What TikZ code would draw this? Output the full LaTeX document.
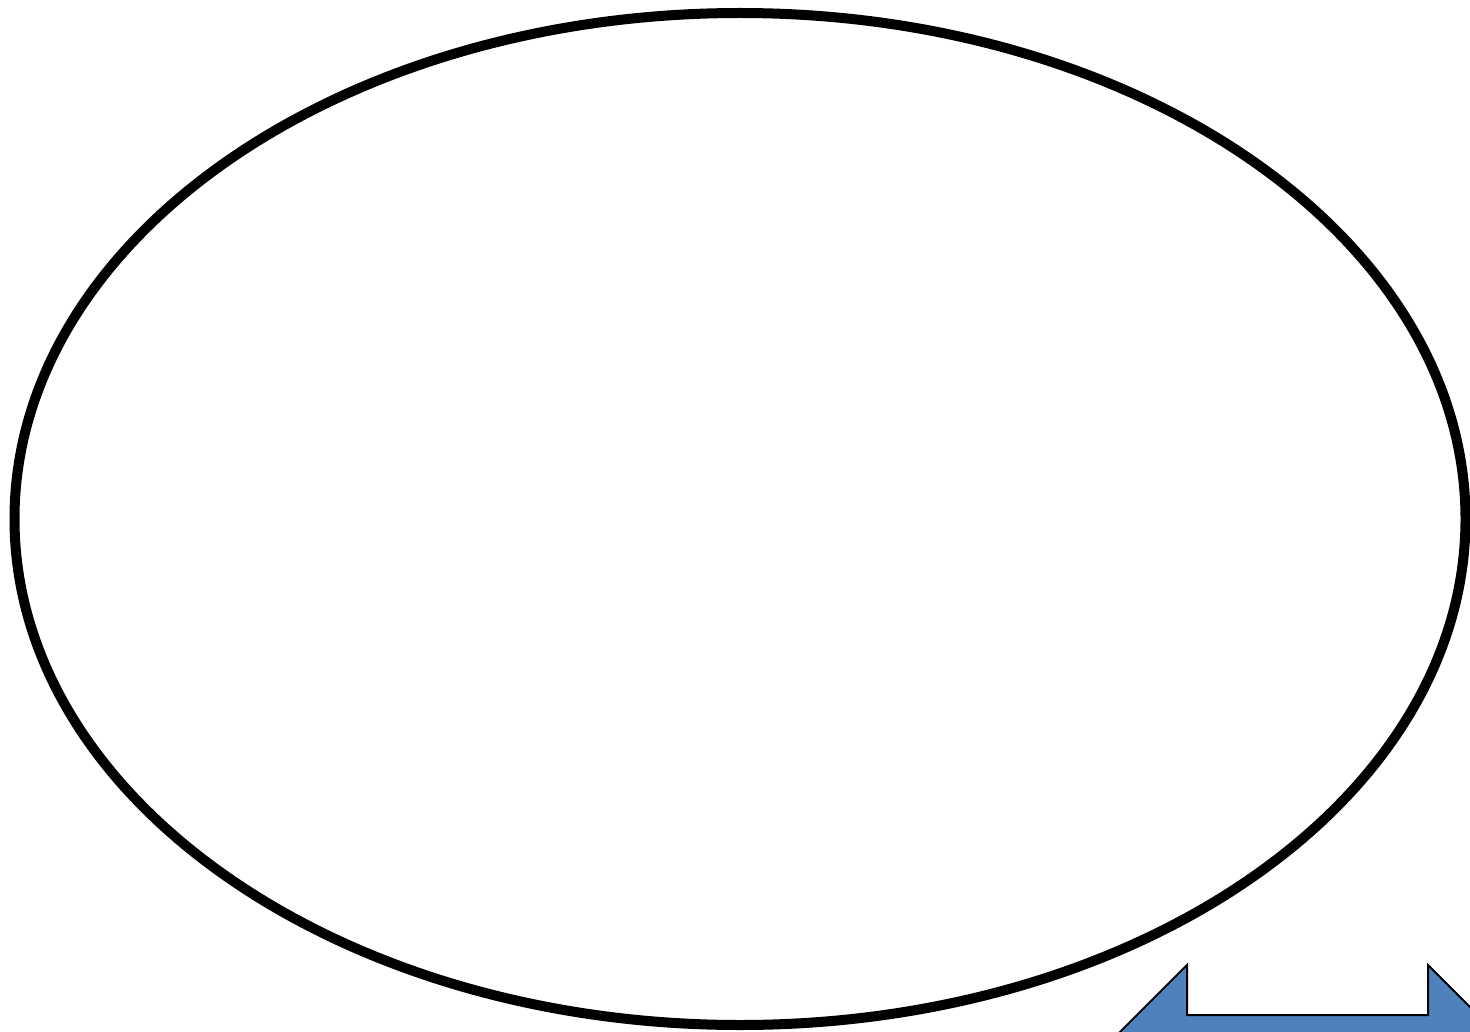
\documentclass[tikz,border=0pt]{standalone}
\usetikzlibrary{shapes.geometric}
\definecolor{arrowblue}{HTML}{4F81BD}
\tikzset{oval/.style={draw,ellipse,line width=10pt,inner sep=0pt,minimum width=1451pt,minimum height=1012pt},
  turnarrow/.style={fill=arrowblue,draw=black,line width=2pt,line join=miter}}
\begin{document}
\begin{tikzpicture}[x=1pt,y=-1pt]
\useasboundingbox (0,0) rectangle (1470,1032);
\clip (0,0) rectangle (1470,1032);
\node[oval] (ring) at (740,519) {};
% arrow, only its top shows
\draw[turnarrow] (1187,965)--(1187,1015)--(1428,1015)--(1428,965)--(1510,1047)--(1510,1100)--(1080,1100)--(1080,1072)--cycle;
\end{tikzpicture}
\end{document}
